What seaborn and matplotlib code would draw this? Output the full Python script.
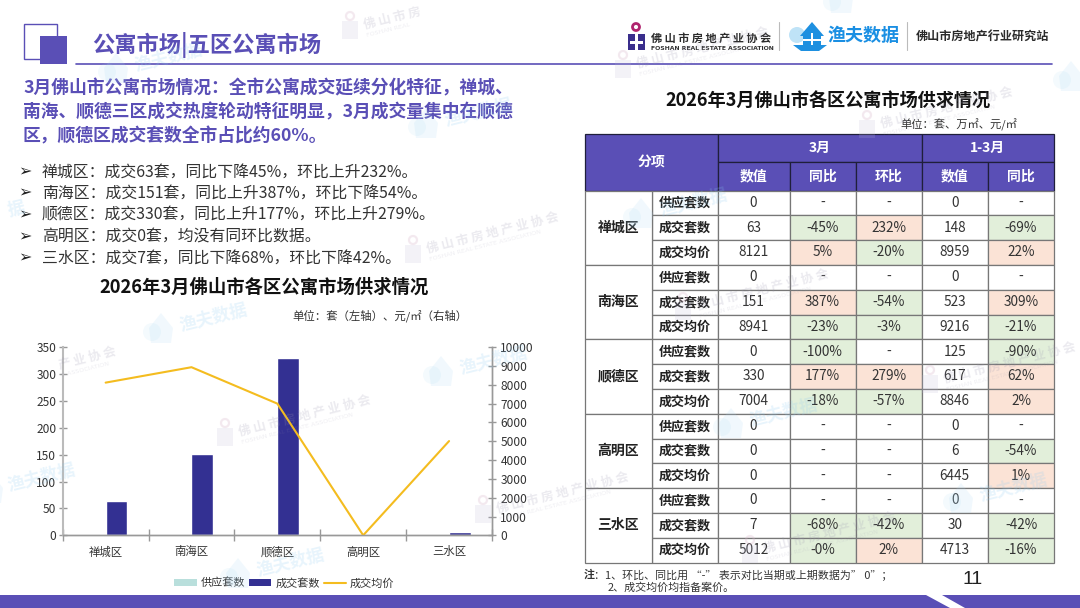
# plot.py
import numpy as np
import pandas as pd
import matplotlib
matplotlib.use("Agg")
import matplotlib.pyplot as plt
import seaborn as sns
from matplotlib.lines import Line2D
from matplotlib.patches import Circle, Patch, Polygon, Rectangle

# chart data
districts = ["禅城区", "南海区", "顺德区", "高明区", "三水区"]
supply_units = [0, 0, 0, 0, 0]
deal_units = [63, 151, 330, 0, 7]
deal_price = [8121, 8941, 7004, 0, 5012]
left_ticks = [0, 50, 100, 150, 200, 250, 300, 350]
right_ticks = [0, 1000, 2000, 3000, 4000, 5000, 6000, 7000, 8000, 9000, 10000]

# table data
row_items = ["供应套数", "成交套数", "成交均价"]
month_value = ["0", "63", "8121", "0", "151", "8941", "0", "330", "7004",
               "0", "0", "0", "0", "7", "5012"]
month_yoy = ["-", "-45%", "5%", "-", "387%", "-23%", "-100%", "177%", "-18%",
             "-", "-", "-", "-", "-68%", "-0%"]
month_mom = ["-", "232%", "-20%", "-", "-54%", "-3%", "-", "279%", "-57%",
             "-", "-", "-", "-", "-42%", "2%"]
ytd_value = ["0", "148", "8959", "0", "523", "9216", "125", "617", "8846",
             "0", "6", "6445", "0", "30", "4713"]
ytd_yoy = ["-", "-69%", "22%", "-", "309%", "-21%", "-90%", "62%", "2%",
           "-", "-54%", "1%", "-", "-42%", "-16%"]

# texts
page_title = "公寓市场|五区公寓市场"
intro_lines = ["3月佛山市公寓市场情况：全市公寓成交延续分化特征，禅城、",
               "南海、顺德三区成交热度轮动特征明显，3月成交量集中在顺德",
               "区，顺德区成交套数全市占比约60%。"]
bullet_lines = ["禅城区：成交63套，同比下降45%，环比上升232%。",
                "南海区：成交151套，同比上升387%，环比下降54%。",
                "顺德区：成交330套，同比上升177%，环比上升279%。",
                "高明区：成交0套，均没有同环比数据。",
                "三水区：成交7套，同比下降68%，环比下降42%。"]
chart_title = "2026年3月佛山市各区公寓市场供求情况"
assoc_cn = "佛 山 市 房 地 产 业 协 会"
assoc_en = "FOSHAN REAL ESTATE ASSOCIATION"

PURPLE = "#5A4FB6"
NAVY = "#333092"
TEAL = "#B9DFDC"
YELLOW = "#F4BC1F"
GREEN = "#E2EFDA"
ORANGE = "#FBE3D6"

sns.set_theme(style="white")
plt.rcParams["font.family"] = ["Noto Sans CJK SC", "DejaVu Sans"]

fig = plt.figure(figsize=(10.8, 6.08), dpi=100)
fig.patch.set_facecolor("white")

# page layer in pixel coordinates
bg = fig.add_axes([0, 0, 1, 1], zorder=0)
bg.set_xlim(0, 1080)
bg.set_ylim(608, 0)
bg.axis("off")

# header
bg.add_patch(Rectangle((24, 24), 33, 35, fill=False, ec=PURPLE, lw=1))
bg.add_patch(Rectangle((39.5, 36), 27, 28, fc=PURPLE, ec="none"))
bg.plot([76, 1052], [64, 64], color=PURPLE, lw=1.2)
bg.text(92, 45, page_title, color=PURPLE, fontsize=16, fontweight="bold", va="center")

for i, line in enumerate(intro_lines):
    bg.text(23, 88 + i * 24.2, line, color=PURPLE, fontsize=12.8, fontweight="bold", va="center")

for line, y in zip(bullet_lines, [172, 193, 215, 237, 258]):
    bg.text(18, y, "➢", color="#222222", fontsize=11.5, va="center", family="DejaVu Sans")
    bg.text(42, y, line, color="#333333", fontsize=11.4, va="center")

# association logo
bg.add_patch(Circle((636, 27), 3.5, fc="none", ec="#B0246E", lw=2))
bg.add_patch(Rectangle((628, 34), 17, 16, fc="#3A2E8C", ec="none"))
bg.add_patch(Rectangle((635, 34), 3, 16, fc="white", ec="none"))
bg.add_patch(Rectangle((630, 41), 13, 2.5, fc="white", ec="none"))
bg.text(651, 38, assoc_cn, color="#2B2B2B", fontsize=8, fontweight="bold", va="center")
bg.text(651, 48, assoc_en, color="#333333", fontsize=4.4,
        fontweight="bold", va="center", family="DejaVu Sans")
bg.plot([779, 779], [22, 50], color="#BBBBBB", lw=0.8)

# fisher data logo
bg.add_patch(Circle((797, 35), 8, fc="#BFE3F7", ec="none"))
bg.add_patch(Polygon([[800, 36], [812, 22], [824, 36]], fc="#1E90E0", ec="none"))
bg.add_patch(Rectangle((803, 35), 18, 10, fc="#1E90E0", ec="none"))
bg.add_patch(Rectangle((811, 33), 2, 12, fc="white", ec="none"))
bg.add_patch(Rectangle((803, 39), 18, 2, fc="white", ec="none"))
bg.add_patch(Polygon([[793, 45], [827, 45], [819, 51], [801, 51]], fc="#1E90E0", ec="none"))
bg.text(828, 35, "渔夫数据", color="#1A8FE3", fontsize=13, fontweight="bold", va="center")
bg.plot([907, 907], [22, 50], color="#BBBBBB", lw=0.8)
bg.text(916, 37, "佛山市房地产行业研究站", color="#2B2B2B", fontsize=8.7, fontweight="bold", va="center")

# titles and units
bg.text(264, 287, chart_title, color="#111111", fontsize=13.2, fontweight="bold", ha="center", va="center")
bg.text(828, 101, chart_title, color="#111111", fontsize=13.1, fontweight="bold", ha="center", va="center")
bg.text(468, 316, "单位：套（左轴）、元/㎡（右轴）", color="#333333", fontsize=8.2, ha="right", va="center")
bg.text(1017, 125, "单位：套、万㎡、元/㎡", color="#333333", fontsize=8.1, ha="right", va="center")

# table
col_edges = [585, 651.5, 717.5, 789.5, 855.5, 921.5, 988, 1054]
head_edges = [133.5, 162, 190.5]
body_top = 190.5
row_h = 24.8


def cell(x0, x1, y0, y1, label, fc="white", ec="#777777", color="#333333", size=9.6, weight="normal"):
    bg.add_patch(Rectangle((x0, y0), x1 - x0, y1 - y0, fc=fc, ec=ec, lw=0.9))
    bg.text((x0 + x1) / 2, (y0 + y1) / 2, label, color=color, fontsize=size, fontweight=weight,
            ha="center", va="center")


def head(c0, c1, r0, r1, label):
    cell(col_edges[c0], col_edges[c1], head_edges[r0], head_edges[r1], label, fc=PURPLE,
         ec="#1F1F3A", color="white", size=10, weight="bold")


head(0, 2, 0, 2, "分项")
head(2, 5, 0, 1, "3月")
head(5, 7, 0, 1, "1-3月")
for c, label in zip(range(2, 7), ["数值", "同比", "环比", "数值", "同比"]):
    head(c, c + 1, 1, 2, label)

columns = [month_value, month_yoy, month_mom, ytd_value, ytd_yoy]
for r in range(15):
    y0 = body_top + r * row_h
    y1 = y0 + row_h
    cell(col_edges[1], col_edges[2], y0, y1, row_items[r % 3], color="#222222", size=9.4, weight="bold")
    for c, values in enumerate(columns):
        value = values[r]
        fc = "white"
        if value.endswith("%"):
            fc = GREEN if value.startswith("-") else ORANGE
        cell(col_edges[c + 2], col_edges[c + 3], y0, y1, value, fc=fc, size=9.8)

for i, name in enumerate(districts):
    cell(col_edges[0], col_edges[1], body_top + i * 3 * row_h, body_top + (i + 1) * 3 * row_h,
         name, color="#222222", size=10, weight="bold")

# footnote, page number, bottom band
bg.text(584, 575, "注", color="#333333", fontsize=7.9, fontweight="bold", va="center")
bg.text(594, 575, "：1、环比、同比用 “-” 表示对比当期或上期数据为” 0”；", color="#333333", fontsize=7.9, va="center")
bg.text(608, 587.5, "2、成交均价均指备案价。", color="#333333", fontsize=7.9, va="center")
bg.text(973, 580, "11", color="#222222", fontsize=14, ha="center", va="center", family="Liberation Sans")
bg.add_patch(Rectangle((0, 595), 1080, 13, fc=PURPLE, ec="none"))
bg.add_patch(Polygon([[926, 595], [942, 595], [965, 608], [950, 608]], fc="white", ec="none"))

# chart
ax = fig.add_axes([62.7 / 1080, (608 - 535.3) / 608, 429.3 / 1080, 188 / 608], zorder=1)
ax.patch.set_alpha(0)
chart_df = pd.DataFrame({
    "district": districts * 2,
    "units": supply_units + deal_units,
    "series": ["供应套数"] * len(districts) + ["成交套数"] * len(districts),
})
sns.barplot(data=chart_df, x="district", y="units", hue="series", ax=ax, width=0.5, gap=0,
            palette=[TEAL, NAVY], legend=False, saturation=1)
ax.set_xlim(-0.5, len(districts) - 0.5)
ax.set_ylim(0, 350)
ax.set_yticks(left_ticks)
ax.set_xlabel("")
ax.set_ylabel("")
ax.set_xticks(np.arange(-0.5, len(districts)))
ax.set_xticklabels([])
ax.set_xticks(np.arange(len(districts)), labels=districts, minor=True)
ax.tick_params(axis="x", which="major", length=8, direction="inout", color="#999999", width=1, bottom=True)
ax.tick_params(axis="x", which="minor", length=0, labelsize=8.2, labelcolor="#333333", pad=8)
ax.tick_params(axis="y", length=6, direction="inout", color="#999999", width=1, left=True,
               labelsize=8.6, labelcolor="#333333", pad=1.5)

ax2 = ax.twinx()
ax2.set_zorder(2)
sns.lineplot(x=list(range(len(districts))), y=deal_price, ax=ax2, color=YELLOW, lw=1.5, legend=False)
ax2.set_ylim(0, 10000)
ax2.set_yticks(right_ticks)
ax2.set_ylabel("")
ax2.tick_params(axis="y", length=6, direction="inout", color="#999999", width=1, right=True,
                labelsize=8.6, labelcolor="#333333", pad=3)
for a in (ax, ax2):
    for side, spine in a.spines.items():
        spine.set_visible(side != "top")
        spine.set_color("#999999")
        spine.set_linewidth(1)
ax.spines["left"].set_color("#BBBBBB")
ax.spines["left"].set_linewidth(1.5)
ax2.spines["left"].set_visible(False)

handles = [Patch(fc=TEAL, ec="none"), Patch(fc=NAVY, ec="none"), Line2D([], [], color=YELLOW, lw=1.5)]
ax2.legend(handles, ["供应套数", "成交套数", "成交均价"], loc="center",
           bbox_to_anchor=(284.5 / 1080, (608 - 583) / 608), bbox_transform=fig.transFigure,
           ncol=3, frameon=False, fontsize=8, labelcolor="#333333", handlelength=2.0, handleheight=0.63,
           handletextpad=0.36, columnspacing=0.36, borderpad=0)

# watermarks on top of everything
top = fig.add_axes([0, 0, 1, 1], zorder=10)
top.set_xlim(0, 1080)
top.set_ylim(608, 0)
top.axis("off")
top.patch.set_alpha(0)

assoc_spots = [(350, 26, "佛 山 市 房", "FOSHAN REAL"), (623, 65, assoc_cn, assoc_en),
               (867, 125, assoc_cn, assoc_en), (45, 366, "产 业 协 会", "E ASSOCIATION"),
               (225, 433, assoc_cn, assoc_en), (483, 510, assoc_cn, assoc_en),
               (683, 307, assoc_cn, assoc_en), (930, 380, assoc_cn, assoc_en),
               (750, 550, assoc_cn, assoc_en), (413, 250, assoc_cn, assoc_en)]
fisher_spots = [(115, 70, "渔夫数据"), (160, 330, "渔夫数据"), (425, 125, "渔夫数据"),
                (440, 373, "渔夫数据"), (-10, 490, "渔夫数据"), (237, 575, "渔夫数据"),
                (640, 215, "渔夫数据"), (730, 425, "渔夫数据"), (960, 500, "渔夫数据"),
                (840, 0, ""), (1070, 78, ""), (-15, 215, "据")]
for x, y, cn, en in assoc_spots:
    if cn.startswith("佛"):
        top.add_patch(Circle((x, y - 10), 4, fc="none", ec="#D9B8CC", lw=1.6, alpha=0.3))
        top.add_patch(Rectangle((x - 8, y - 5), 16, 18, fc="#BDB8D8", ec="none", alpha=0.18))
    top.text(x + 14, y - 1, cn, color="#9A96B0", alpha=0.2, fontsize=9,
             fontweight="bold", rotation=14, rotation_mode="anchor", va="center")
    top.text(x + 17, y + 10, en, color="#9A96B0", alpha=0.16, fontsize=4.6,
             rotation=14, rotation_mode="anchor", va="center", family="DejaVu Sans")
for x, y, label in fisher_spots:
    top.add_patch(Circle((x - 8, y + 2), 9, fc="#A9D8F5", ec="none", alpha=0.12))
    top.add_patch(Polygon([[x - 11, y - 2], [x + 1, y - 17], [x + 13, y - 2], [x + 11, y + 13], [x - 9, y + 13]],
                          fc="#A9D8F5", ec="none", alpha=0.16))
    if label:
        top.text(x + 20 if x > 0 else 8, y - 4, label, color="#8CCBF2", alpha=0.2, fontsize=12.5,
                 fontweight="bold", rotation=14, rotation_mode="anchor", va="center")

fig.savefig("out.png", dpi=100)
